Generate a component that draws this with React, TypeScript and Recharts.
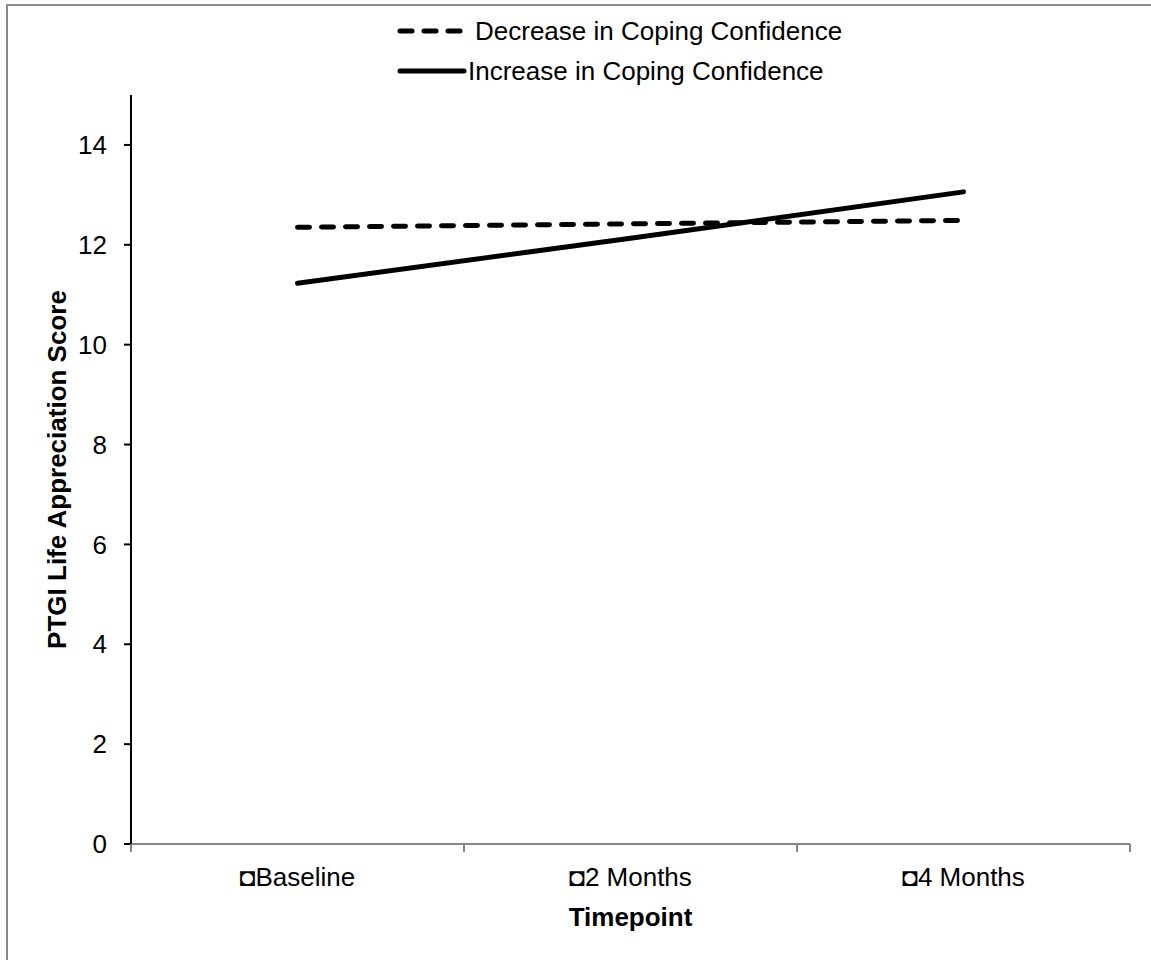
import React from 'react'
import { LineChart, Line, XAxis, YAxis, Legend } from 'recharts'

const FONT = '"Liberation Sans", Arial, sans-serif'

const categories = ['Baseline', '2 Months', '4 Months']
const decreaseScores = [12.35, 12.42, 12.49]
const increaseScores = [11.23, 12.13, 13.06]
const yTicks = [0, 2, 4, 6, 8, 10, 12, 14]

const SERIES = [
  { key: 'decrease', name: 'Decrease in Coping Confidence', dash: '12 12', len: 67, gap: 10 },
  { key: 'increase', name: 'Increase in Coping Confidence', dash: undefined, len: 68, gap: 2 },
]

// points sit in the middle of each category band, ticks mark the band edges
const data = categories.map((c, i) => ({
  pos: i + 0.5,
  label: c,
  decrease: decreaseScores[i],
  increase: increaseScores[i],
}))
const xTicks = [0, 0.5, 1, 1.5, 2, 2.5, 3]

function XTick(props: any) {
  const { x, y, payload } = props
  const v = Number(payload.value)
  if (Number.isInteger(v)) {
    return <line x1={x} x2={x} y1={y} y2={y + 8} stroke="#868686" strokeWidth={2} />
  }
  const label = categories[Math.floor(v)]
  return (
    <text x={x} y={y + 42} textAnchor="middle" fontSize={26} fontFamily={FONT} fill="#000">
      {'\u25D8' + label}
    </text>
  )
}

function LegendBox() {
  return (
    <div style={{ fontFamily: FONT, fontSize: 26, color: '#000' }}>
      {SERIES.map(s => (
        <div key={s.key} style={{ display: 'flex', alignItems: 'center', height: 40 }}>
          <svg width={s.len + 4} height={12} style={{ display: 'block' }}>
            <line
              x1={4} x2={s.len} y1={6} y2={6}
              stroke="#000" strokeWidth={5} strokeLinecap="round"
              strokeDasharray={s.dash}
            />
          </svg>
          <span style={{ marginLeft: s.gap - 2, whiteSpace: 'nowrap' }}>{s.name}</span>
        </div>
      ))}
    </div>
  )
}

export default function App() {
  return (
    <div style={{ position: 'absolute', left: 0, top: 0, width: 1151, height: 960, overflow: 'hidden', background: '#fff' }}>
      <div style={{
        position: 'absolute', left: 6, top: 4, width: 1200, height: 1000,
        borderTop: '2px solid #8a8a8a', borderLeft: '2px solid #8a8a8a',
      }} />
      <div style={{ position: 'absolute', left: 0, top: 0 }}>
        <LineChart width={1151} height={960} data={data} margin={{ top: 15, right: 21, left: 0, bottom: 16 }}>
          <XAxis
            dataKey="pos" type="number" domain={[0, 3]} ticks={xTicks}
            interval={0} height={100}
            axisLine={{ stroke: '#868686', strokeWidth: 2 }}
            tickLine={false} tickSize={0} tickMargin={0}
            tick={<XTick />}
            label={{
              content: ({ viewBox }: any) => (
                <text
                  x={viewBox.x + viewBox.width / 2} y={viewBox.y + 82}
                  textAnchor="middle" fontSize={26} fontWeight="bold" fontFamily={FONT} fill="#000"
                >Timepoint</text>
              ),
            }}
          />
          <YAxis
            domain={[0, 15]} ticks={yTicks} width={131} interval={0}
            axisLine={{ stroke: '#000', strokeWidth: 2 }}
            tickLine={{ stroke: '#000', strokeWidth: 2 }}
            tickSize={7} tickMargin={17}
            tick={{ fontSize: 26, fontFamily: FONT, fill: '#000' }}
            label={{
              content: ({ viewBox }: any) => {
                const cx = viewBox.x + 57
                const cy = viewBox.y + viewBox.height / 2
                return (
                  <text
                    x={cx} y={cy} transform={`rotate(-90 ${cx} ${cy})`}
                    textAnchor="middle" dominantBaseline="central"
                    fontSize={26} fontWeight="bold" fontFamily={FONT} fill="#000"
                  >PTGI Life Appreciation Score</text>
                )
              },
            }}
          />
          <Legend
            verticalAlign="top"
            content={() => <LegendBox />}
            wrapperStyle={{ top: 11, left: 396, width: 520 }}
          />
          <Line
            dataKey="decrease" name={SERIES[0].name}
            stroke="#000" strokeWidth={5} strokeDasharray="12 12" strokeLinecap="round"
            dot={false} activeDot={false} isAnimationActive={false}
          />
          <Line
            dataKey="increase" name={SERIES[1].name}
            stroke="#000" strokeWidth={5} strokeLinecap="round"
            dot={false} activeDot={false} isAnimationActive={false}
          />
        </LineChart>
      </div>
    </div>
  )
}
